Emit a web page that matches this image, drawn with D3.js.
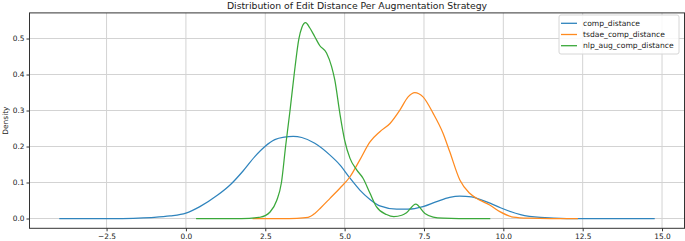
<!DOCTYPE html>
<html>
<head>
    <meta charset="utf-8">
    <title>Distribution of Edit Distance Per Augmentation Strategy</title>
    <style type="text/css">
        body{
            margin: 0;
            background-color: #fff;
        }
        svg{
            display: block;
            font-family: "DejaVu Sans", sans-serif;
        }
        .grid line{
            stroke: #d3d3d3;
            stroke-width: 1px;
        }
        .axis path, .axis line{
            stroke: #333;
            stroke-width: 1px;
        }
        .axis text{
            fill: #222;
            font-size: 7.4px;
            font-family: "DejaVu Sans", sans-serif;
        }
        .kde{
            fill: none;
            stroke-width: 1.25px;
        }
    </style>
    <script type="text/javascript" src="https://cdn.jsdelivr.net/npm/d3@7"></script>
</head>
<body>

    <div id="chart"></div>

    <script type="text/javascript">
        var width = 685, height = 241;
        var plotLeft = 29.5, plotRight = 684.5, plotTop = 12.9, plotBottom = 228.3;

        var seriesNames = ['comp_distance', 'tsdae_comp_distance', 'nlp_aug_comp_distance'];
        var seriesColors = ['#2f84bd', '#ff8a1f', '#3aa83a'];

        var compX = [-3.99, -3, -2, -1.5, -1, -0.5, 0, 0.44, 1.0, 1.39, 1.8, 2.17, 2.49, 2.8, 3.1,
            3.38, 3.65, 4.06, 4.54, 4.85, 5.17, 5.48, 5.8, 6.11, 6.64, 7.0, 7.47, 7.9, 8.31, 8.63, 9.0,
            9.26, 9.6, 9.91, 10.54, 11.17, 12.0, 13.0, 14.77];
        var compY = [0, 0, 0, 0.001, 0.003, 0.007, 0.015, 0.033, 0.065, 0.093, 0.132, 0.172, 0.2, 0.219, 0.226,
            0.228, 0.225, 0.209, 0.176, 0.149, 0.112, 0.079, 0.053, 0.035, 0.026, 0.026, 0.033, 0.047, 0.059, 0.0625, 0.06,
            0.053, 0.042, 0.03, 0.011, 0.003, 0, 0, 0];

        var tsdaeX = [2.1, 3.0, 3.5, 3.85, 4.06, 4.25, 4.54, 4.85, 5.17, 5.48, 5.8, 6.11, 6.43, 6.74, 7.0,
            7.21, 7.47, 7.79, 8.1, 8.31, 8.63, 8.94, 9.26, 9.57, 9.89, 10.31, 10.8, 11.5, 12.35];
        var tsdaeY = [0, 0, 0.0005, 0.003, 0.014, 0.03, 0.056, 0.084, 0.116, 0.163, 0.213, 0.241, 0.264, 0.301, 0.338,
            0.35, 0.338, 0.292, 0.237, 0.186, 0.107, 0.07, 0.051, 0.0375, 0.019, 0.004, 0.001, 0, 0];

        var nlpX = [0.32, 1.5, 2.0, 2.3, 2.5, 2.65, 2.86, 3.01, 3.14, 3.28, 3.41, 3.56, 3.65, 3.77, 3.9,
            4.06, 4.22, 4.43, 4.59, 4.69, 4.85, 5.0, 5.17, 5.38, 5.58, 5.8, 6.0, 6.32, 6.55, 6.8,
            6.95, 7.24, 7.53, 7.79, 8.1, 8.6, 9.59];
        var nlpY = [0, 0, 0.0005, 0.003, 0.008, 0.018, 0.05, 0.1, 0.2, 0.3, 0.4, 0.5, 0.53, 0.544, 0.53,
            0.505, 0.48, 0.46, 0.422, 0.385, 0.292, 0.218, 0.167, 0.135, 0.112, 0.07, 0.033, 0.011, 0.005, 0.009,
            0.016, 0.04, 0.014, 0.004, 0.001, 0, 0];

        var xTicks = [-2.5, 0.0, 2.5, 5.0, 7.5, 10.0, 12.5, 15.0];
        var yTicks = [0.0, 0.1, 0.2, 0.3, 0.4, 0.5];

        var series = [
            {name: seriesNames[0], xs: compX, ys: compY},
            {name: seriesNames[1], xs: tsdaeX, ys: tsdaeY},
            {name: seriesNames[2], xs: nlpX, ys: nlpY}
        ];

        // matplotlib style 5% margins
        var xExt = d3.extent(d3.merge([compX, tsdaeX, nlpX]));
        var yExt = d3.extent(d3.merge([compY, tsdaeY, nlpY]));
        var xPad = (xExt[1] - xExt[0]) * 0.05, yPad = (yExt[1] - yExt[0]) * 0.05;

        var xScale = d3.scaleLinear()
            .domain([xExt[0] - xPad, xExt[1] + xPad])
            .range([plotLeft, plotRight]);
        var yScale = d3.scaleLinear()
            .domain([yExt[0] - yPad, yExt[1] + yPad])
            .range([plotBottom, plotTop]);

        var svg = d3.select('#chart')
            .append('svg')
            .attr('width', width)
            .attr('height', height);

        // grid
        var grid = svg.append('g').attr('class', 'grid');
        grid.selectAll('.gx')
            .data(xTicks)
            .enter()
            .append('line')
            .attr('x1', function(d){ return xScale(d); })
            .attr('x2', function(d){ return xScale(d); })
            .attr('y1', plotTop)
            .attr('y2', plotBottom);
        grid.selectAll('.gy')
            .data(yTicks)
            .enter()
            .append('line')
            .attr('x1', plotLeft)
            .attr('x2', plotRight)
            .attr('y1', function(d){ return yScale(d); })
            .attr('y2', function(d){ return yScale(d); });

        // curves
        var line = d3.line()
            .x(function(d){ return xScale(d[0]); })
            .y(function(d){ return yScale(d[1]); })
            .curve(d3.curveMonotoneX);

        svg.selectAll('.kde')
            .data(series)
            .enter()
            .append('path')
            .attr('class', 'kde')
            .attr('stroke', function(d, i){ return seriesColors[i]; })
            .attr('d', function(d){
                return line(d3.zip(d.xs, d.ys));
            });

        // axes
        var xAxis = d3.axisBottom(xScale)
            .tickValues(xTicks)
            .tickSizeOuter(0)
            .tickSize(3)
            .tickPadding(2)
            .tickFormat(function(d){ return d3.format('.1f')(d).replace('-', '\u2212'); });
        var yAxis = d3.axisLeft(yScale)
            .tickValues(yTicks)
            .tickSizeOuter(0)
            .tickSize(3)
            .tickPadding(2)
            .tickFormat(d3.format('.1f'));

        svg.append('g')
            .attr('class', 'axis')
            .attr('transform', 'translate(0,' + plotBottom + ')')
            .call(xAxis)
            .select('.domain').remove();
        svg.append('g')
            .attr('class', 'axis')
            .attr('transform', 'translate(' + plotLeft + ',0)')
            .call(yAxis)
            .select('.domain').remove();

        // frame
        svg.append('rect')
            .attr('x', plotLeft)
            .attr('y', plotTop)
            .attr('width', plotRight - plotLeft)
            .attr('height', plotBottom - plotTop)
            .attr('fill', 'none')
            .attr('stroke', '#333')
            .attr('stroke-width', 1);

        // title and label
        svg.append('text')
            .attr('x', (plotLeft + plotRight) / 2)
            .attr('y', 9)
            .attr('text-anchor', 'middle')
            .attr('font-size', '9.3px')
            .attr('fill', '#222')
            .text('Distribution of Edit Distance Per Augmentation Strategy');

        svg.append('text')
            .attr('transform', 'translate(7.5,' + ((plotTop + plotBottom) / 2) + ') rotate(-90)')
            .attr('text-anchor', 'middle')
            .attr('font-size', '7.4px')
            .attr('fill', '#222')
            .text('Density');

        // legend
        var legend = svg.append('g')
            .attr('transform', 'translate(559,15)');
        legend.append('rect')
            .attr('width', 120)
            .attr('height', 39)
            .attr('rx', 2)
            .attr('fill', '#fff')
            .attr('fill-opacity', 0.85)
            .attr('stroke', '#d6d6d6')
            .attr('stroke-width', 1);
        var items = legend.selectAll('.item')
            .data(seriesNames)
            .enter()
            .append('g')
            .attr('class', 'item')
            .attr('transform', function(d, i){
                return 'translate(0,' + (8.3 + i * 11.2) + ')';
            });
        items.append('line')
            .attr('x1', 2)
            .attr('x2', 18)
            .attr('stroke', function(d, i){ return seriesColors[i]; })
            .attr('stroke-width', 1.3);
        items.append('text')
            .attr('x', 24)
            .attr('dy', '0.35em')
            .attr('font-size', '7.6px')
            .attr('fill', '#222')
            .text(function(d){ return d; });
    </script>

</body>
</html>
